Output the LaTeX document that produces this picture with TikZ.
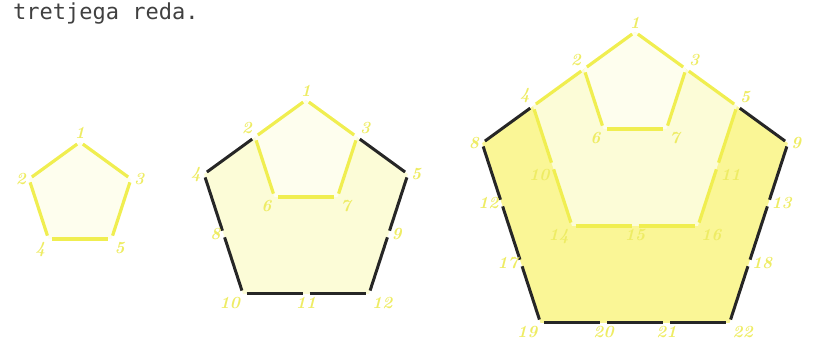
\documentclass[tikz,border=0pt]{standalone}
\usepackage{fontspec}
\setmonofont{DejaVu Sans Mono}
\usepackage{tikz}
\usetikzlibrary{calc}
\definecolor{penline}{RGB}{240,238,80}
\definecolor{pennum}{RGB}{238,236,100}
\definecolor{fillhi}{RGB}{250,246,150}
\definecolor{fillmid}{RGB}{252,252,215}
\definecolor{filllo}{RGB}{254,254,238}
\tikzset{
  yel/.style={line width=3.2pt, draw=penline, shorten <=3.5pt, shorten >=3.5pt},
  blk/.style={line width=3pt, draw=black!85, shorten <=3.5pt, shorten >=3.5pt},
  num/.style={font=\bfseries\itshape\fontsize{17}{17}\selectfont, text=pennum, inner sep=3pt},
}

\begin{document}
\begin{tikzpicture}[x=1pt, y=-1pt]
\useasboundingbox (0,0) rectangle (813,349);
\node[anchor=base west, inner sep=0pt, text=black!75, font=\ttfamily\fontsize{22}{22}\selectfont] (title) at (13,19) {tretjega reda.};

% side vectors, side = 63
\coordinate (ua) at (-50.97,37.04);
\coordinate (ub) at (50.97,37.04);
\coordinate (uc) at (19.47,59.92);
\coordinate (ud) at (-19.47,59.92);
\coordinate (ue) at (63,0);

% first pentagon
\coordinate (p1-1) at (80,142);
\coordinate (p1-2) at ($(p1-1)+(ua)$);
\coordinate (p1-3) at ($(p1-1)+(ub)$);
\coordinate (p1-4) at ($(p1-2)+(uc)$);
\coordinate (p1-5) at ($(p1-4)+(ue)$);
\fill[filllo] (p1-1) -- (p1-3) -- (p1-5) -- (p1-4) -- (p1-2) -- cycle;
\foreach \a/\b in {1/2,2/4,4/5,5/3,3/1}
  \draw[yel] (p1-\a) -- (p1-\b);
\foreach \i/\anc in {1/south,2/east,3/west,4/north east,5/north west}
  \node[num, anchor=\anc] (n1-\i) at (p1-\i) {\i};

% second pentagon
\coordinate (p2-1) at (306,100);
\coordinate (p2-2) at ($(p2-1)+(ua)$);
\coordinate (p2-3) at ($(p2-1)+(ub)$);
\coordinate (p2-4) at ($(p2-1)+2*(ua)$);
\coordinate (p2-5) at ($(p2-1)+2*(ub)$);
\coordinate (p2-6) at ($(p2-2)+(uc)$);
\coordinate (p2-7) at ($(p2-6)+(ue)$);
\coordinate (p2-8) at ($(p2-4)+(uc)$);
\coordinate (p2-9) at ($(p2-5)+(ud)$);
\coordinate (p2-10) at ($(p2-8)+(uc)$);
\coordinate (p2-11) at ($(p2-10)+(ue)$);
\coordinate (p2-12) at ($(p2-10)+2*(ue)$);
\fill[fillmid] (p2-1) -- (p2-5) -- (p2-12) -- (p2-10) -- (p2-4) -- cycle;
\fill[filllo] (p2-1) -- (p2-3) -- (p2-7) -- (p2-6) -- (p2-2) -- cycle;
\foreach \a/\b in {1/2,1/3,2/6,6/7,7/3}
  \draw[yel] (p2-\a) -- (p2-\b);
\foreach \a/\b in {2/4,4/8,8/10,10/11,11/12,12/9,9/5,5/3}
  \draw[blk] (p2-\a) -- (p2-\b);
\foreach \i/\anc in {1/south,2/south east,3/south west,4/east,5/west,6/north east,
    7/north west,8/east,9/west,10/north east,11/north,12/north west}
  \node[num, anchor=\anc] (n2-\i) at (p2-\i) {\i};

% third pentagon
\coordinate (p3-1) at (635,32);
\coordinate (p3-2) at ($(p3-1)+(ua)$);
\coordinate (p3-3) at ($(p3-1)+(ub)$);
\coordinate (p3-4) at ($(p3-1)+2*(ua)$);
\coordinate (p3-5) at ($(p3-1)+2*(ub)$);
\coordinate (p3-6) at ($(p3-2)+(uc)$);
\coordinate (p3-7) at ($(p3-6)+(ue)$);
\coordinate (p3-8) at ($(p3-1)+3*(ua)$);
\coordinate (p3-9) at ($(p3-1)+3*(ub)$);
\coordinate (p3-10) at ($(p3-4)+(uc)$);
\coordinate (p3-11) at ($(p3-5)+(ud)$);
\coordinate (p3-12) at ($(p3-8)+(uc)$);
\coordinate (p3-13) at ($(p3-9)+(ud)$);
\coordinate (p3-14) at ($(p3-10)+(uc)$);
\coordinate (p3-15) at ($(p3-14)+(ue)$);
\coordinate (p3-16) at ($(p3-14)+2*(ue)$);
\coordinate (p3-17) at ($(p3-12)+(uc)$);
\coordinate (p3-18) at ($(p3-13)+(ud)$);
\coordinate (p3-19) at ($(p3-17)+(uc)$);
\coordinate (p3-20) at ($(p3-19)+(ue)$);
\coordinate (p3-21) at ($(p3-19)+2*(ue)$);
\coordinate (p3-22) at ($(p3-19)+3*(ue)$);
\fill[fillhi] (p3-1) -- (p3-9) -- (p3-22) -- (p3-19) -- (p3-8) -- cycle;
\fill[fillmid] (p3-1) -- (p3-5) -- (p3-16) -- (p3-14) -- (p3-4) -- cycle;
\fill[filllo] (p3-1) -- (p3-3) -- (p3-7) -- (p3-6) -- (p3-2) -- cycle;
\foreach \a/\b in {1/2,1/3,2/6,6/7,7/3,2/4,3/5,4/10,10/14,14/15,15/16,16/11,11/5}
  \draw[yel] (p3-\a) -- (p3-\b);
\foreach \a/\b in {4/8,8/12,12/17,17/19,19/20,20/21,21/22,22/18,18/13,13/9,9/5}
  \draw[blk] (p3-\a) -- (p3-\b);
\foreach \i/\anc in {1/south,2/south east,3/south west,4/south east,5/south west,
    6/north east,7/north west,8/east,9/west,10/north east,11/north west,12/east,
    13/west,14/north east,15/north,16/north west,17/east,18/west,19/north east,
    20/north,21/north,22/north west}
  \node[num, anchor=\anc] (n3-\i) at (p3-\i) {\i};
\end{tikzpicture}
\end{document}
